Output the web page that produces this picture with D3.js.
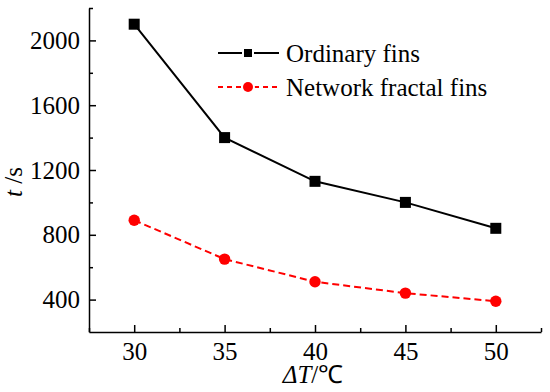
<!DOCTYPE html>
<html>
<head>
<meta charset="utf-8">
<script src="https://cdn.jsdelivr.net/npm/d3@7"></script>
<style>
  body { margin: 0; background: #fff; }
</style>
</head>
<body>
<div id="chart"></div>
<script>
// ----- Data -----
const deltaT = [30, 35, 40, 45, 50];
const ordinaryFins = [2100, 1400, 1130, 1000, 840];
const fractalFins = [890, 650, 510, 440, 390];
const xTicks = [30, 35, 40, 45, 50];
const yTicks = [400, 800, 1200, 1600, 2000];

// ----- Config -----
const width = 550;
const height = 392;
const margin = { top: 8, right: 9, bottom: 60, left: 89 };
const fontSize = "25px";
const serif = "\"Liberation Serif\"";

const svg = d3.select("#chart")
  .append("svg")
  .attr("width", width)
  .attr("height", height);

const x = d3.scaleLinear()
  .domain([27.5, 52.5])
  .range([margin.left, width - margin.right]);

const y = d3.scaleLinear()
  .domain([200, 2200])
  .range([height - margin.bottom, margin.top]);

// ----- Axes (ticks pointing inward) -----
svg.append("g")
  .attr("transform", `translate(0,${height - margin.bottom})`)
  .call(d3.axisBottom(x).tickValues(xTicks).tickFormat(d3.format("d"))
    .tickSizeInner(-7).tickSizeOuter(0).tickPadding(10));

svg.append("g")
  .attr("transform", `translate(0,${height - margin.bottom})`)
  .call(d3.axisBottom(x).tickValues([27.5, 32.5, 37.5, 42.5, 47.5, 52.5]).tickSize(-4).tickFormat(""))
  .call(g => g.select(".domain").remove());

svg.append("g")
  .attr("transform", `translate(${margin.left},0)`)
  .call(d3.axisLeft(y).tickValues(yTicks).tickFormat(d3.format("d"))
    .tickSizeInner(-7).tickSizeOuter(0).tickPadding(9));

svg.append("g")
  .attr("transform", `translate(${margin.left},0)`)
  .call(d3.axisLeft(y).tickValues([600, 1000, 1400, 1800, 2200]).tickSize(-4).tickFormat(""))
  .call(g => g.select(".domain").remove());

svg.selectAll(".domain, .tick line")
  .attr("stroke", "#000")
  .attr("stroke-width", 1.5);

// ----- Axis titles -----
const xTitle = svg.append("text")
  .attr("x", (x(27.5) + x(52.5)) / 2 - 2)
  .attr("y", 383)
  .attr("text-anchor", "middle");
xTitle.append("tspan").attr("font-style", "italic").text("ΔT");
xTitle.append("tspan").text("/℃");

const yTitle = svg.append("text")
  .attr("transform", `translate(22,182) rotate(-90)`)
  .attr("text-anchor", "middle");
yTitle.append("tspan").attr("font-style", "italic").text("t");
yTitle.append("tspan").text(" /s");

// ----- Lines and markers -----
const line = d3.line()
  .x((d, i) => x(deltaT[i]))
  .y(d => y(d));

svg.append("path")
  .datum(ordinaryFins)
  .attr("fill", "none")
  .attr("stroke", "#000")
  .attr("stroke-width", 2)
  .attr("d", line);

svg.append("path")
  .datum(fractalFins)
  .attr("fill", "none")
  .attr("stroke", "#ff0000")
  .attr("stroke-width", 2)
  .attr("stroke-dasharray", "7,4")
  .attr("d", line);

const sq = 11;
svg.append("g")
  .selectAll("rect")
  .data(ordinaryFins)
  .join("rect")
  .attr("x", (d, i) => x(deltaT[i]) - sq / 2)
  .attr("y", d => y(d) - sq / 2)
  .attr("width", sq)
  .attr("height", sq)
  .attr("fill", "#000");

svg.append("g")
  .selectAll("circle")
  .data(fractalFins)
  .join("circle")
  .attr("cx", (d, i) => x(deltaT[i]))
  .attr("cy", d => y(d))
  .attr("r", 5.7)
  .attr("fill", "#ff0000");

// ----- Legend -----
const legend = svg.append("g");
const items = [
  { label: "Ordinary fins", color: "#000", dash: null, shape: "square", cy: 53 },
  { label: "Network fractal fins", color: "#ff0000", dash: "5,4", shape: "circle", cy: 87 }
];

items.forEach(it => {
  const gi = legend.append("g");
  gi.append("line")
    .attr("x1", 218).attr("x2", 279)
    .attr("y1", it.cy).attr("y2", it.cy)
    .attr("stroke", it.color)
    .attr("stroke-width", 2)
    .attr("stroke-dasharray", it.dash);
  if (it.shape === "square") {
    gi.append("rect")
      .attr("x", 248 - 6).attr("y", it.cy - 6)
      .attr("width", 12).attr("height", 12)
      .attr("fill", "#fff");
    gi.append("rect")
      .attr("x", 248 - 4).attr("y", it.cy - 4)
      .attr("width", 8).attr("height", 8)
      .attr("fill", it.color);
  } else {
    gi.append("circle")
      .attr("cx", 248).attr("cy", it.cy).attr("r", 7)
      .attr("fill", "#fff");
    gi.append("circle")
      .attr("cx", 248).attr("cy", it.cy).attr("r", 5)
      .attr("fill", it.color);
  }
  gi.append("text")
    .attr("x", 286)
    .attr("y", it.cy + 9)
    .text(it.label);
});

// every text in the same serif face, set last so nothing overrides it
svg.selectAll("g").attr("font-family", null).attr("font-size", null);
svg.selectAll("text")
  .style("font-family", serif)
  .style("font-size", fontSize)
  .attr("fill", "#000");
</script>
</body>
</html>
